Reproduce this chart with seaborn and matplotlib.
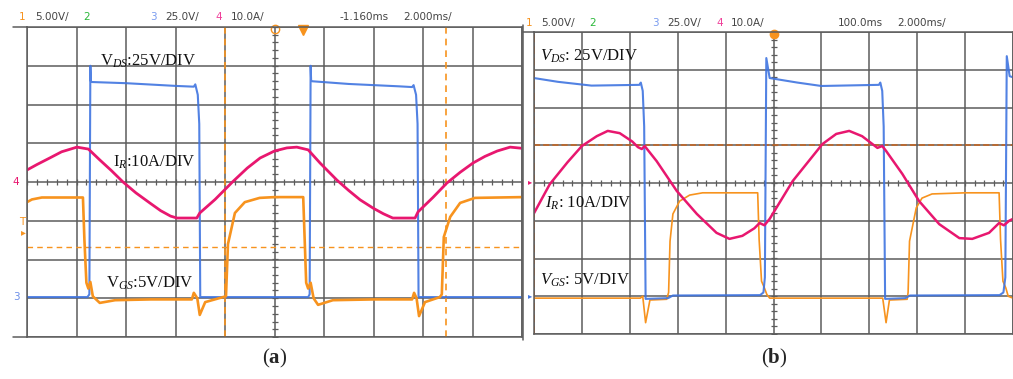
import numpy as np
import matplotlib.pyplot as plt
import seaborn as sns

# ---- values read off the two scope screens (units: divisions) ----
# panel (a)
a_ir_t = [0.0, 0.2, 0.46, 0.7, 1.01, 1.24, 1.47, 1.7, 1.94, 2.2, 2.48, 2.7, 2.9, 3.03, 3.43, 3.49, 3.8, 4.15, 4.45, 4.71,
          5.0, 5.25, 5.45, 5.68, 5.92, 6.26, 6.5, 6.73, 7.0, 7.2, 7.39, 7.84, 7.90, 8.2, 8.48, 8.75, 9.01, 9.25, 9.5, 9.76, 10.0]
a_ir_v = [0.31, 0.45, 0.62, 0.78, 0.90, 0.85, 0.57, 0.30, 0.0, -0.28, -0.54, -0.74, -0.88, -0.93, -0.93, -0.80, -0.45, 0.0, 0.36, 0.62,
          0.80, 0.88, 0.90, 0.83, 0.49, 0.05, -0.22, -0.46, -0.68, -0.82, -0.93, -0.93, -0.77, -0.40, -0.03, 0.25, 0.49, 0.66, 0.80, 0.90, 0.87]

a_vds_t = [0.0, 1.22, 1.26, 1.28, 1.29, 1.31, 2.0, 3.0, 3.37, 3.40, 3.45, 3.48, 3.50,
           5.68, 5.71, 5.73, 5.74, 5.76, 6.5, 7.5, 7.78, 7.81, 7.86, 7.89, 7.91, 10.0]
a_vds_v = [-2.97, -2.97, -2.9, 3.0, 2.6, 2.58, 2.55, 2.48, 2.46, 2.52, 2.25, 1.5, -2.97,
           -2.97, -2.9, 3.0, 2.62, 2.6, 2.53, 2.47, 2.45, 2.5, 2.25, 1.5, -2.97, -2.97]

a_vgs_t = [0.0, 0.1, 0.3, 1.13, 1.16, 1.20, 1.24, 1.28, 1.33, 1.47, 1.78, 2.5, 3.33, 3.37, 3.44, 3.49, 3.6, 3.96, 4.02, 4.06,
           4.2, 4.4, 4.7, 5.0, 5.58, 5.61, 5.64, 5.68, 5.73, 5.79, 5.88, 6.18, 7.0, 7.78, 7.82, 7.87, 7.92, 8.04, 8.34, 8.38,
           8.42, 8.55, 8.75, 9.05, 10.0]
a_vgs_v = [-0.52, -0.45, -0.40, -0.40, -1.5, -2.6, -2.75, -2.58, -2.95, -3.12, -3.05, -3.03, -3.03, -2.86, -3.0, -3.43, -3.1, -2.97, -2.95, -1.6,
           -0.8, -0.52, -0.41, -0.39, -0.39, -1.5, -2.6, -2.75, -2.6, -3.0, -3.17, -3.05, -3.03, -3.03, -2.86, -3.0, -3.46, -3.1, -2.97, -2.9,
           -1.42, -0.9, -0.54, -0.41, -0.39]

# panel (b)
b_ir_t = [0.0, 0.33, 0.7, 1.0, 1.31, 1.54, 1.79, 2.05, 2.17, 2.25, 2.31, 2.56, 2.98, 3.40, 3.81, 4.08, 4.35, 4.60, 4.71, 4.81,
          4.92, 5.40, 6.02, 6.31, 6.58, 6.85, 7.17, 7.27, 7.35, 7.69, 8.04, 8.46, 8.88, 9.15, 9.50, 9.71, 9.81, 9.92, 10.0]
b_ir_v = [-0.8, -0.03, 0.55, 0.98, 1.24, 1.38, 1.32, 1.1, 0.95, 0.9, 0.98, 0.58, -0.21, -0.82, -1.32, -1.48, -1.40, -1.2, -1.06, -1.12,
          -0.95, 0.05, 1.03, 1.30, 1.38, 1.24, 0.93, 0.98, 0.85, 0.24, -0.48, -1.09, -1.46, -1.48, -1.32, -1.06, -1.12, -1.0, -0.95]

b_vds_t = [0.0, 0.5, 1.2, 2.2, 2.23, 2.27, 2.30, 2.33, 2.8, 2.9, 4.72, 4.79, 4.82, 4.85, 4.92, 5.5, 6.0,
           7.2, 7.23, 7.27, 7.30, 7.33, 7.75, 7.85, 9.72, 9.80, 9.84, 9.87, 9.93, 10.0]
b_vds_v = [2.78, 2.68, 2.58, 2.6, 2.66, 2.44, 1.5, -3.07, -3.05, -2.98, -2.97, -2.9, -2.5, 3.31, 2.78, 2.66, 2.57,
           2.6, 2.66, 2.44, 1.5, -3.07, -3.05, -2.98, -2.97, -2.9, -2.5, 3.36, 2.83, 2.8]

b_vgs_t = [0.0, 1.0, 2.22, 2.27, 2.33, 2.42, 2.77, 2.81, 2.84, 2.90, 3.04, 3.25, 3.52, 4.0, 4.67, 4.70, 4.75, 4.81, 4.86, 4.92,
           6.0, 7.28, 7.35, 7.42, 7.79, 7.81, 7.84, 7.98, 8.10, 8.31, 9.0, 9.71, 9.74, 9.79, 9.85, 9.90, 10.0]
b_vgs_v = [-3.05, -3.05, -3.05, -3.0, -3.7, -3.1, -3.08, -2.9, -1.54, -0.82, -0.48, -0.32, -0.26, -0.26, -0.26, -1.5, -2.6, -2.78, -2.95, -3.05,
           -3.05, -3.05, -3.7, -3.1, -3.08, -2.9, -1.54, -0.66, -0.40, -0.29, -0.26, -0.26, -1.5, -2.6, -2.78, -3.0, -3.05]

# cursors / trigger level
a_cursor_x = [4.0, 8.47]
a_trig_level = -1.68
b_cursor_x = [0.0]
b_trig_level = 1.0

header_a = ['1', '5.00V/', '2', '3', '25.0V/', '4', '10.0A/', '-1.160ms', '2.000ms/']
header_b = ['1', '5.00V/', '2', '3', '25.0V/', '4', '10.0A/', '100.0ms', '2.000ms/']

ORANGE = '#f7931e'
BLUE = '#3f74e0'
MAGENTA = '#e8176f'
GREEN = '#2bb83a'
GRID = '#5c5c5c'

sns.set_style('white')
plt.rcParams['font.family'] = ['DejaVu Sans']
plt.rcParams['mathtext.fontset'] = 'custom'
plt.rcParams['mathtext.rm'] = 'Liberation Serif'
plt.rcParams['mathtext.it'] = 'Liberation Serif:italic'
plt.rcParams['mathtext.bf'] = 'Liberation Serif:bold'

W, H = 1013, 379
fig = plt.figure(figsize=(W / 100, H / 100), dpi=100)


def fx(px):
    return px / W


def fy(py):
    return 1 - py / H


ax_a = fig.add_axes([fx(27), fy(337), 495 / W, 310 / H])
ax_b = fig.add_axes([fx(534), fy(334), 479 / W, 302 / H])

for ax in (ax_a, ax_b):
    ax.set_xlim(0, 10)
    ax.set_ylim(-4, 4)
    ax.set_xticks(range(11))
    ax.set_yticks(range(-4, 5))
    ax.grid(True, color=GRID, lw=1.1)
    ax.tick_params(length=0, labelbottom=False, labelleft=False)
    ax.set_xlabel('')
    ax.set_ylabel('')
    for s in ax.spines.values():
        s.set_color(GRID)
        s.set_linewidth(1.1)
    # centre graticule with minor ticks
    ax.plot(np.arange(0, 10.01, 0.2), np.zeros(51), ls='none', marker='|', ms=5, color=GRID, mew=0.9)
    ax.plot(np.full(41, 5.0), np.arange(-4, 4.01, 0.2), ls='none', marker='_', ms=5, color=GRID, mew=0.9)

# panel (a) traces
ax_a.axhline(a_trig_level, color=ORANGE, ls=(0, (4, 3)), lw=1.0)
for c in a_cursor_x:
    ax_a.axvline(c, color=ORANGE, ls=(0, (4, 3)), lw=1.2)
sns.lineplot(x=a_vds_t, y=a_vds_v, ax=ax_a, estimator=None, sort=False, color=BLUE, lw=1.5, alpha=0.9)
sns.lineplot(x=a_vgs_t, y=a_vgs_v, ax=ax_a, estimator=None, sort=False, color=ORANGE, lw=1.9)
sns.lineplot(x=a_ir_t, y=a_ir_v, ax=ax_a, estimator=None, sort=False, color=MAGENTA, lw=2.0)
ax_a.plot([5.58], [3.93], marker='v', color=ORANGE, ms=7, clip_on=False)
ax_a.plot([5.0], [3.95], marker='o', mfc='none', mec=ORANGE, ms=6, clip_on=False)

# panel (b) traces
ax_b.axhline(b_trig_level, color='#c8641e', ls=(0, (4, 2)), lw=1.1)
for c in b_cursor_x:
    ax_b.axvline(c, color='#c8641e', ls=(0, (4, 2)), lw=1.4)
sns.lineplot(x=b_vgs_t, y=b_vgs_v, ax=ax_b, estimator=None, sort=False, color=ORANGE, lw=1.2)
sns.lineplot(x=b_vds_t, y=b_vds_v, ax=ax_b, estimator=None, sort=False, color=BLUE, lw=1.5, alpha=0.9)
sns.lineplot(x=b_ir_t, y=b_ir_v, ax=ax_b, estimator=None, sort=False, color=MAGENTA, lw=1.8)
ax_b.plot([5.0], [3.95], marker='o', color=ORANGE, ms=6, clip_on=False)

# screen frame pieces outside the graticule
fig.add_artist(plt.Line2D([fx(13), fx(27)], [fy(27), fy(27)], color=GRID, lw=1.1))
fig.add_artist(plt.Line2D([fx(13), fx(27)], [fy(337), fy(337)], color=GRID, lw=1.1))
fig.add_artist(plt.Line2D([fx(523), fx(534)], [fy(32), fy(32)], color=GRID, lw=1.1))
fig.add_artist(plt.Line2D([fx(523), fx(523)], [fy(25), fy(340)], color=GRID, lw=1.1))

# channel reference markers on the left
fig.text(fx(16), fy(182), '4', color=MAGENTA, fontsize=7.5, ha='center', va='center')
fig.text(fx(22), fy(222), 'T', color=ORANGE, fontsize=7.5, ha='center', va='center')
fig.text(fx(23), fy(232), '\u25b8', color=ORANGE, fontsize=7, ha='center', va='center')
fig.text(fx(16), fy(297), '3', color='#6d8fe8', fontsize=7.5, ha='center', va='center')
fig.text(fx(530), fy(182), '\u25b8', color=MAGENTA, fontsize=6, ha='center', va='center')
fig.text(fx(530), fy(296), '\u25b8', color=BLUE, fontsize=6, ha='center', va='center')

# header lines
hdr_colors = [ORANGE, '#444444', GREEN, '#7a9cf0', '#444444', '#f0409a', '#444444', '#444444', '#444444']
hdr_a_x = [19, 35, 83, 150, 165, 215, 231, 339, 403]
hdr_b_x = [526, 541, 589, 652, 667, 716, 731, 838, 897]
for txt, c, x in zip(header_a, hdr_colors, hdr_a_x):
    fig.text(fx(x), fy(17), txt, color=c, fontsize=7.5, ha='left', va='center')
for txt, c, x in zip(header_b, hdr_colors, hdr_b_x):
    fig.text(fx(x), fy(23), txt, color=c, fontsize=7.5, ha='left', va='center')

# trace labels
lab = dict(fontsize=12, ha='left', va='baseline', color='#111111', family='Liberation Serif')
fig.text(fx(100), fy(66), r'V$_{\mathit{DS}}$:25V/DIV', **lab)
fig.text(fx(113), fy(167), r'I$_{\mathit{R}}$:10A/DIV', **lab)
fig.text(fx(106), fy(288), r'V$_{\mathit{GS}}$:5V/DIV', **lab)
fig.text(fx(540), fy(61), r'$\mathit{V}_{\mathit{DS}}$: 25V/DIV', **lab)
fig.text(fx(545), fy(208), r'$\mathit{I}_{\mathit{R}}$: 10A/DIV', **lab)
fig.text(fx(540), fy(285), r'$\mathit{V}_{\mathit{GS}}$: 5V/DIV', **lab)

fig.text(fx(275), fy(358), r'($\mathbf{a}$)', fontsize=15, ha='center', va='center', family='Liberation Serif')
fig.text(fx(774), fy(358), r'($\mathbf{b}$)', fontsize=15, ha='center', va='center', family='Liberation Serif')

fig.savefig('out.png', dpi=100)
